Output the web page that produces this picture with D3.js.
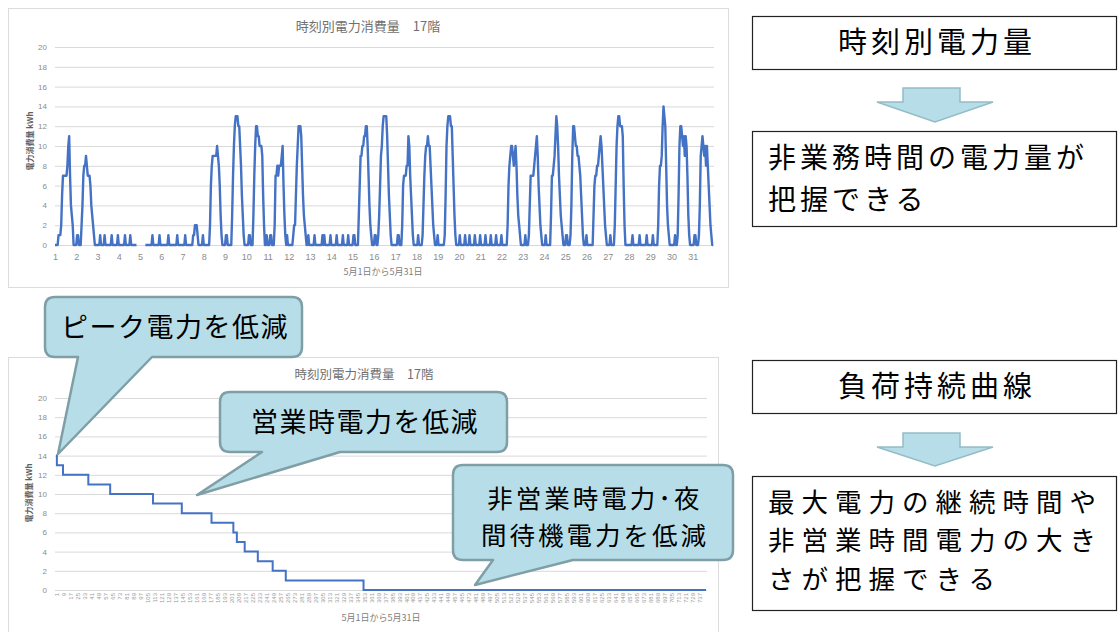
<!DOCTYPE html>
<html><head><meta charset="utf-8">
<script src="https://cdn.jsdelivr.net/npm/d3@7"></script>
<style>
html,body{margin:0;padding:0;background:#fff;}
svg{display:block;font-family:"Noto Sans CJK JP","Noto Sans",sans-serif;}
</style></head><body>
<svg id="c" width="1120" height="632"></svg>
<script>
// ---------- data ----------
const chartTitle = "時刻別電力消費量　17階";
const xAxisTitle = "5月1日から5月31日";
const yAxisTitle = "電力消費量 kWh";
const dayLabels = ["1","2","3","4","5","6","7","8","9","10","11","12","13","14","15","16","17","18","19","20","21","22","23","24","25","26","27","28","29","30","31"];
const yTicks = [0,2,4,6,8,10,12,14,16,18,20];
// hourly kWh, one row per day (24 hours); null = missing data
const hourly = [
 [0,0,0,0,1,1,1,2,5,7,7,7,7,7,8,10,11,7,4,3,2,0,0,0],
 [0,1,1,0,0,0,2,4,7,8,8,9,8,7,7,7,6,4,3,2,1,0,0,0],
 [0,0,0,1,0,0,0,0,1,0,0,0,0,0,0,0,1,0,0,0,0,0,0,1],
 [0,0,0,0,0,0,0,1,0,0,0,0,0,1,0,0,0,0,0,0,0,null,null,null],
 [null,null,null,null,null,null,0,0,0,0,0,0,0,0,1,0,0,0,0,0,0,0,1,0],
 [0,0,0,0,0,0,0,0,1,0,0,0,0,0,0,0,0,0,1,0,0,0,0,0],
 [0,0,0,1,0,0,0,0,0,0,0,0,1,1,2,2,2,1,0,0,0,0,0,1],
 [0,0,0,0,0,0,0,2,6,8,9,9,9,9,9,10,9,8,6,3,1,0,0,0],
 [0,1,1,0,0,0,0,0,3,7,10,12,13,13,13,12,12,10,8,5,3,1,0,0],
 [0,0,0,1,1,0,0,0,3,7,10,12,12,11,11,10,10,10,9,5,2,0,0,1],
 [0,0,0,1,1,0,0,0,2,7,7,8,7,8,8,8,9,10,6,3,1,0,1,0],
 [0,0,0,0,0,1,2,2,5,8,10,12,12,12,11,8,5,3,2,1,0,0,1,0],
 [0,0,0,0,0,1,0,0,0,0,0,0,0,0,1,0,1,0,0,0,0,0,0,1],
 [0,0,0,0,0,0,1,0,0,0,0,0,0,1,0,0,0,0,0,1,0,0,0,0],
 [0,1,1,0,0,0,0,3,6,9,9,10,10,11,11,12,12,10,7,4,2,1,0,0],
 [0,1,1,0,0,1,3,6,9,10,12,13,13,13,13,11,8,5,3,1,0,0,0,0],
 [0,0,0,1,1,0,0,0,2,6,7,7,7,8,8,11,10,7,5,3,1,0,0,0],
 [0,0,1,0,0,0,0,1,4,7,9,10,10,11,10,10,8,6,4,2,1,0,0,0],
 [1,0,0,0,0,0,0,0,1,5,10,12,13,13,13,12,12,9,6,3,1,0,0,0],
 [0,1,0,0,0,0,0,1,0,0,0,0,1,0,0,0,0,0,1,0,0,0,0,0],
 [1,0,0,0,0,0,1,0,0,0,0,0,1,0,0,0,0,0,1,0,0,0,0,0],
 [1,0,0,0,0,0,0,2,6,8,9,10,10,9,8,9,10,8,5,3,2,1,0,0],
 [0,0,0,1,0,0,0,1,4,7,7,7,7,8,9,10,11,9,6,4,2,1,0,0],
 [0,0,1,0,0,0,0,0,3,7,7,8,9,11,13,12,10,7,5,3,2,1,0,0],
 [0,1,1,0,0,0,1,4,9,12,12,11,10,10,9,9,8,7,5,3,1,0,0,0],
 [1,0,0,0,0,0,0,0,3,6,7,7,8,8,9,10,11,10,8,6,4,2,1,0],
 [0,0,0,1,0,0,0,0,2,6,10,12,13,13,12,12,12,11,6,2,0,0,0,0],
 [0,0,0,0,1,0,0,0,0,0,0,0,1,0,0,0,0,0,0,0,1,0,0,0],
 [0,0,0,1,0,0,0,0,0,2,6,8,8,9,12,14,13,12,8,4,2,1,0,0],
 [0,0,0,0,1,0,0,1,5,10,12,12,11,10,11,9,11,10,7,3,1,0,0,0],
 [0,0,1,1,0,0,0,1,4,9,10,11,10,9,10,8,10,8,6,4,2,1,0,0]
];
// load duration curve: step starts (hour rank) and values
const durationHours  = [0, 1, 8, 37, 62, 111, 144, 178, 203, 207, 216, 231, 248, 263, 352, 744];
const durationValues = [14,13,12,11, 10,   9,   8,   7,   6,   5,   4,   3,   2,   1,   0,   0];
const durationTickLabels = [1,9,17,25,33,41,49,57,65,73,81,89,97,105,113,121,129,137,145,153,161,169,177,185,193,201,209,217,225,233,241,249,257,265,273,281,289,297,305,313,321,329,337,345,353,361,369,377,385,393,401,409,417,425,433,441,449,457,465,473,481,489,497,505,513,521,529,537,545,553,561,569,577,585,593,601,609,617,625,633,641,649,657,665,673,681,689,697,705,713,721,729,737];
const totalHours = 744;

// ---------- drawing ----------
const svg = d3.select("#c");
const LINE = "#4472c4", GRID = "#d9d9d9", TICK = "#8c8c8c";
const CALL_FILL = "#b7dee8", CALL_STROKE = "#7f9fa7";

function frame(x, y, w, h) {
  svg.append("rect").attr("x", x).attr("y", y).attr("width", w).attr("height", h)
    .attr("fill", "#fff").attr("stroke", "#dcdcdc").attr("stroke-width", 1);
}
function yGrid(g, scale, width, pad) {
  g.call(d3.axisLeft(scale).tickValues(yTicks).tickSize(-width).tickPadding(pad));
  g.select(".domain").remove();
  g.selectAll("line").attr("stroke", GRID).attr("stroke-width", 1);
  g.selectAll("text").attr("fill", TICK).style("font-size", "8px").style("font-family", "Liberation Sans, sans-serif");
}

// ===== top chart =====
frame(8.5, 8.5, 720, 279);
const xTop = d3.scaleLinear().domain([0, totalHours]).range([55, 714]);
const yTop = d3.scaleLinear().domain([0, 20]).range([245, 47]);
yGrid(svg.append("g").attr("transform", "translate(55,0)"), yTop, 659, 8);
const gxTop = svg.append("g").attr("transform", "translate(0,245)")
  .call(d3.axisBottom(xTop).tickValues(dayLabels.map((d, i) => i * 24))
        .tickFormat((d, i) => dayLabels[i]).tickSize(0).tickPadding(9));
gxTop.select(".domain").remove();
gxTop.selectAll("text").attr("fill", TICK).style("font-size", "9px").style("font-family", "Liberation Sans, sans-serif");

const series = hourly.flat();
svg.append("path").datum(series)
  .attr("fill", "none").attr("stroke", LINE).attr("stroke-width", 2.4)
  .attr("stroke-linejoin", "round")
  .attr("d", d3.line().defined(d => d !== null).x((d, i) => xTop(i)).y(d => yTop(d)));

svg.append("text").attr("x", 368).attr("y", 26).attr("dy", "0.35em").attr("text-anchor", "middle")
  .attr("fill", "#707070").style("font-size", "13px").text(chartTitle);
svg.append("text").attr("x", 383).attr("y", 272).attr("dy", "0.35em").attr("text-anchor", "middle")
  .attr("fill", "#808080").style("font-size", "9px").text(xAxisTitle);
svg.append("text").attr("transform", "translate(30,141) rotate(-90)").attr("dy", "0.35em")
  .attr("text-anchor", "middle").attr("fill", "#606060").style("font-size", "8px")
  .style("font-weight", "bold").text(yAxisTitle);

// ===== bottom chart =====
frame(8.5, 357.5, 710, 290);
const xBot = d3.scaleLinear().domain([0, totalHours]).range([56, 706]);
const yBot = d3.scaleLinear().domain([0, 20]).range([590, 398]);
yGrid(svg.append("g").attr("transform", "translate(55,0)"), yBot, 652, 8);
const gxBot = svg.append("g").attr("transform", "translate(0,590)")
  .call(d3.axisBottom(xBot).tickValues(durationTickLabels.map(v => v - 0.5))
        .tickFormat((d, i) => durationTickLabels[i]).tickSize(0));
gxBot.select(".domain").remove();
gxBot.selectAll("text").attr("fill", "#9a9a9a").style("font-size", "6px")
  .style("font-family", "Liberation Sans, sans-serif")
  .attr("transform", "rotate(-90)").attr("text-anchor", "end")
  .attr("x", -3).attr("y", 0).attr("dy", "0.35em");

const steps = durationHours.map((h, i) => [h, durationValues[i]]);
svg.append("path").datum(steps)
  .attr("fill", "none").attr("stroke", LINE).attr("stroke-width", 2)
  .attr("d", d3.line().x(d => xBot(d[0])).y(d => yBot(d[1])).curve(d3.curveStepAfter));

svg.append("text").attr("x", 364).attr("y", 375).attr("dy", "0.35em").attr("text-anchor", "middle")
  .attr("fill", "#707070").style("font-size", "12.5px").text(chartTitle);
svg.append("text").attr("x", 381).attr("y", 618).attr("dy", "0.35em").attr("text-anchor", "middle")
  .attr("fill", "#808080").style("font-size", "9px").text(xAxisTitle);
svg.append("text").attr("transform", "translate(29,493) rotate(-90)").attr("dy", "0.35em")
  .attr("text-anchor", "middle").attr("fill", "#606060").style("font-size", "8px")
  .style("font-weight", "bold").text(yAxisTitle);

// ===== callouts =====
function callout(x, y, w, h, r, a, b, tx, ty) {
  const p = `M${x + r},${y} H${x + w - r} Q${x + w},${y} ${x + w},${y + r} V${y + h - r} Q${x + w},${y + h} ${x + w - r},${y + h}
    H${b} L${tx},${ty} L${a},${y + h} H${x + r} Q${x},${y + h} ${x},${y + h - r} V${y + r} Q${x},${y} ${x + r},${y} Z`;
  svg.append("path").attr("d", p).attr("fill", CALL_FILL).attr("stroke", CALL_STROKE)
    .attr("stroke-width", 2.5).attr("stroke-linejoin", "round");
}
function label(x, y, txt, size, anchor, ls) {
  svg.append("text").attr("x", x).attr("y", y).attr("dy", "0.36em").attr("text-anchor", anchor)
    .attr("fill", "#000").style("font-size", size + "px").style("letter-spacing", ls + "px").text(txt);
}
callout(45, 297, 257, 60, 10, 78, 152, 58, 454);
label(175, 327, "ピーク電力を低減", 27, "middle", 1.5);
callout(220, 392, 287, 60, 10, 262, 340, 197, 495);
label(365, 422, "営業時電力を低減", 27, "middle", 1.5);
callout(453, 465, 280, 95, 10, 493, 573, 475, 585);
label(595, 498.5, "非営業時電力･夜", 25.5, "middle", 3);
label(595, 536, "間待機電力を低減", 25.5, "middle", 3);

// ===== right side boxes and arrows =====
function box(x, y, w, h) {
  svg.append("rect").attr("x", x).attr("y", y).attr("width", w).attr("height", h)
    .attr("fill", "#fff").attr("stroke", "#222").attr("stroke-width", 1.2);
}
function arrow(top, shaftBottom, tip) {
  const pts = [[903, top], [960, top], [960, shaftBottom], [993, shaftBottom], [935, tip], [877, shaftBottom], [903, shaftBottom]];
  svg.append("polygon").attr("points", pts.map(p => p.join(",")).join(" "))
    .attr("fill", CALL_FILL).attr("stroke", "#93bcc6").attr("stroke-width", 1.5);
}
box(752.5, 16.5, 364, 53);
label(937, 43, "時刻別電力量", 29, "middle", 4);
arrow(88, 102, 122);
box(752.5, 131.5, 364, 95);
label(768, 158, "非業務時間の電力量が", 28, "start", 4);
label(768, 200, "把握できる", 28, "start", 4);

box(752.5, 360.5, 364, 53);
label(937, 387, "負荷持続曲線", 29, "middle", 4);
arrow(433, 447, 466);
box(752.5, 476.5, 364, 134);
label(768, 502, "最大電力の継続時間や", 26.5, "start", 7);
label(768, 540.5, "非営業時間電力の大き", 26.5, "start", 7);
label(768, 579, "さが把握できる", 26.5, "start", 7);
</script>
</body></html>
